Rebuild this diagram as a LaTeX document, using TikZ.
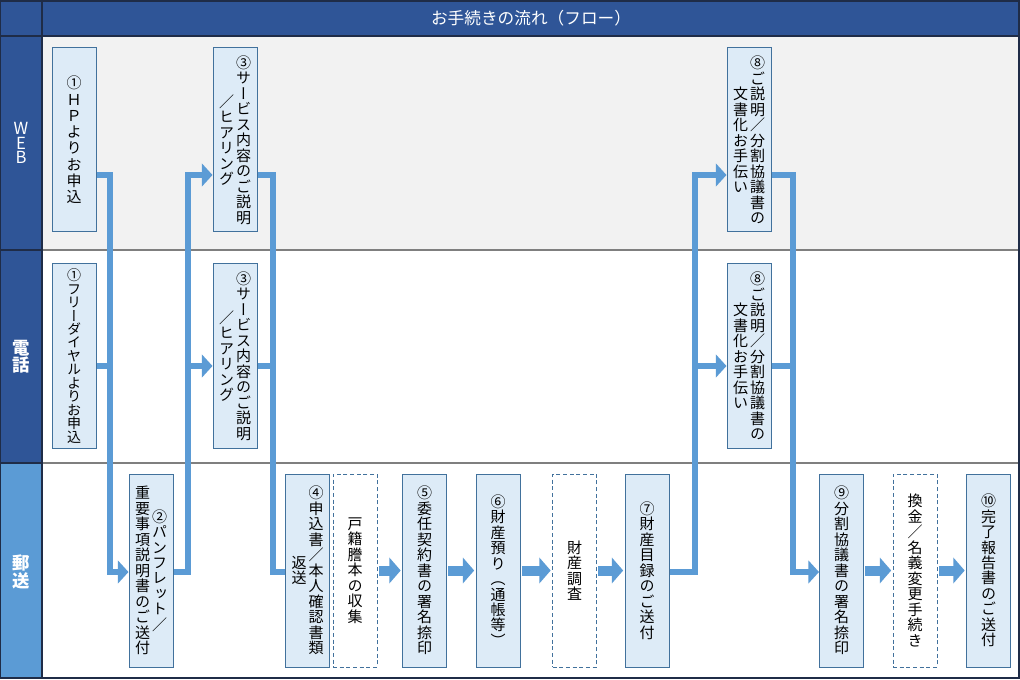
\documentclass[tikz,border=0pt]{standalone}
\usepackage{fontspec}
\usepackage{xcolor}
\usetikzlibrary{arrows.meta}
\setmainfont{Noto Sans CJK JP}
\newfontfamily\jpv[RawFeature=+vert]{Noto Sans CJK JP}

\definecolor{hdblue}{HTML}{2F5597}
\definecolor{mailblue}{HTML}{5B9BD5}
\definecolor{webbg}{HTML}{F2F2F2}
\definecolor{boxfill}{HTML}{DDEBF7}
\definecolor{boxline}{HTML}{41719C}
\definecolor{flowblue}{HTML}{5B9BD5}
\definecolor{gridgray}{HTML}{7F7F7F}
\definecolor{griddark}{HTML}{1F2C47}

% one column of upright characters, top to bottom
\ExplSyntaxOn
\NewDocumentCommand\tatecol{O{11.6pt}m}{
  \vbox{\baselineskip=#1\lineskiplimit=-\maxdimen\lineskip=0pt
    \tl_map_inline:nn{#2}{\hbox_to_wd:nn{1em}{\hss##1\hss}}}}
\ExplSyntaxOff
\newcommand\tate[2][11.6pt]{$\vcenter{\tatecol[#1]{#2}}$}
\newcommand\tatetwo[3][11.6pt]{$\vcenter{\tatecol[#1]{#3}}$\kern1.5pt$\vcenter{\tatecol[#1]{#2}}$}

\tikzset{
  box/.style={draw=boxline, line width=0.75pt, fill=boxfill, minimum width=33pt, inner sep=0pt,
    font=\jpv\fontsize{11.25}{13}\selectfont},
  hibox/.style={box, minimum height=138pt},
  lobox/.style={box, minimum height=144.75pt},
  dashbox/.style={lobox, fill=white, dash pattern=on 3pt off 2pt},
  flowline/.style={draw=flowblue, line width=4.5pt, line join=miter},
  flow/.style={flowline, -{Triangle[length=8pt,width=17pt]}},
  bigarrow/.style={draw=flowblue, line width=7.5pt, -{Triangle[length=8.5pt,width=19pt]},
    shorten <=1pt, shorten >=1pt},
  lane/.style={text=white, inner sep=0pt},
}

\begin{document}
\begin{tikzpicture}[x=0.75pt, y=-0.75pt]
    \useasboundingbox (0, 0) rectangle (1020, 680);
    \fill[white] (0, 0) rectangle (1020, 680);

    % table
    \fill[hdblue] (0, 1) rectangle (1019, 36);
    \fill[webbg] (42, 36) rectangle (1019, 250);
    \fill[hdblue] (0, 36) rectangle (42, 463);
    \fill[mailblue] (0, 463) rectangle (42, 678);
    \draw[gridgray, line width=1.2pt] (42, 250) -- (1019, 250) (42, 463) -- (1019, 463);
    \draw[griddark, line width=1.2pt] (0, 250) -- (42, 250) (0, 463) -- (42, 463);
    \draw[griddark, line width=1.5pt] (0, 36) -- (1019, 36) (42, 1) -- (42, 678);
    \draw[griddark, line width=1pt] (0.5, 1) rectangle (1019, 678);

    \node[text=white, font=\fontsize{12.5}{14}\selectfont] at (531, 18) (title) {お手続きの流れ（フロー）};
    \node[lane, font=\jpv\fontsize{12.5}{14}\selectfont] at (21, 143) (lweb) {\tate[11pt]{WEB}};
    \node[lane, font=\jpv\bfseries\fontsize{13}{15}\selectfont] at (21, 357) (ltel) {\tate[13pt]{電話}};
    \node[lane, font=\jpv\bfseries\fontsize{13}{15}\selectfont] at (21, 572) (lmail) {\tate[13pt]{郵送}};

    % WEB
    \node[hibox] at (74, 140) (w1) {\tate[12.2pt]{①ＨＰよりお申込}};
    \node[hibox] at (235, 140) (w3) {\tatetwo{③サービス内容のご説明}{／ヒアリング}};
    \node[hibox] at (749, 140) (w8) {\tatetwo{⑧ご説明／分割協議書の}{文書化お手伝い}};

    % phone
    \node[hibox] at (74, 356) (t1) {\fontsize{10.5}{12}\selectfont\tate[10.1pt]{①フリーダイヤルよりお申込}};
    \node[hibox] at (235, 356) (t3) {\tatetwo{③サービス内容のご説明}{／ヒアリング}};
    \node[hibox] at (749, 356) (t8) {\tatetwo{⑧ご説明／分割協議書の}{文書化お手伝い}};

    % mail
    \node[lobox] at (151, 570.5) (p2) {\tatetwo{②パンフレット／}{重要事項説明書のご送付}};
    \node[lobox] at (307.5, 570.5) (p4) {\tatetwo{④申込書／本人確認書類}{返送}};
    \node[dashbox] at (355, 570.5) (koseki) {\tate{戸籍謄本の収集}};
    \node[lobox] at (424.5, 570.5) (p5) {\tate{⑤委任契約書の署名捺印}};
    \node[lobox] at (498, 570.5) (p6) {\tate{⑥財産預り（通帳等）}};
    \node[dashbox] at (574.5, 570.5) (chosa) {\tate{財産調査}};
    \node[lobox] at (647, 570.5) (p7) {\tate{⑦財産目録のご送付}};
    \node[lobox] at (841.5, 570.5) (p9) {\tate{⑨分割協議書の署名捺印}};
    \node[dashbox] at (915, 570.5) (kankin) {\tate{換金／名義変更手続き}};
    \node[lobox] at (988.5, 570.5) (p10) {\tate{⑩完了報告書のご送付}};

    % rows and trunks of the connectors
    \coordinate (rowW) at (0, 175);
    \coordinate (rowT) at (0, 366);
    \coordinate (rowM) at (0, 572);
    \coordinate (k1) at (110, 0);
    \coordinate (k2) at (188, 0);
    \coordinate (k3) at (273, 0);
    \coordinate (k4) at (695, 0);
    \coordinate (k5) at (793, 0);

    \draw[flow] (w1.east |- rowW) -| (k1 |- rowM) -- (p2.west |- rowM);
    \draw[flowline] (t1.east |- rowT) -- (k1 |- rowT);
    \draw[flow] (p2.east |- rowM) -| (k2 |- rowW) -- (w3.west |- rowW);
    \draw[flow] (k2 |- rowT) -- (t3.west |- rowT);
    \draw[flowline] (w3.east |- rowW) -| (k3 |- rowM) -- (p4.west |- rowM);
    \draw[flowline] (t3.east |- rowT) -- (k3 |- rowT);
    \draw[flow] (p7.east |- rowM) -| (k4 |- rowW) -- (w8.west |- rowW);
    \draw[flow] (k4 |- rowT) -- (t8.west |- rowT);
    \draw[flow] (w8.east |- rowW) -| (k5 |- rowM) -- (p9.west |- rowM);
    \draw[flowline] (t8.east |- rowT) -- (k5 |- rowT);

    \draw[bigarrow] (koseki) -- (p5);
    \draw[bigarrow] (p5) -- (p6);
    \draw[bigarrow] (p6) -- (chosa);
    \draw[bigarrow] (chosa) -- (p7);
    \draw[bigarrow] (p9) -- (kankin);
    \draw[bigarrow] (kankin) -- (p10);
\end{tikzpicture}
\end{document}
